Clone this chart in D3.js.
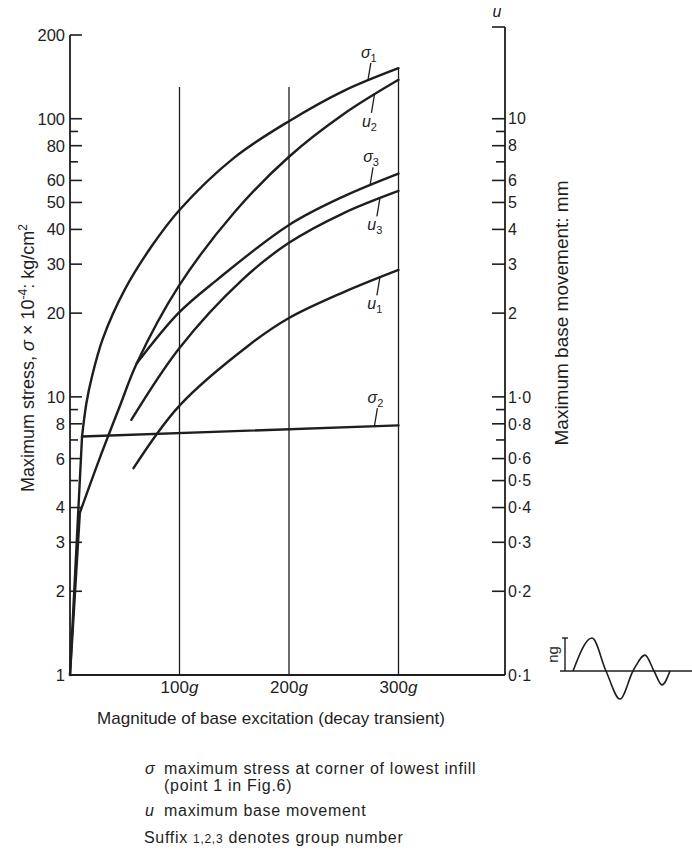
<!DOCTYPE html>
<html><head><meta charset="utf-8">
<script src="https://cdn.jsdelivr.net/npm/d3@7"></script>
<style>
body{margin:0;background:#fff}
svg{display:block}
text{font-family:"Liberation Sans",Arial,sans-serif;fill:#1e1e1e}
</style>
</head><body>
<svg id="c" width="692" height="850"></svg>
<script>
// ---------- data ----------
const xTicks = [100, 200, 300];
const xTickUnit = "g";
const leftTicks = [1,2,3,4,5,6,7,8,9,10,20,30,40,50,60,70,80,90,100,200];
const leftLabeled = [1,2,3,4,6,8,10,20,30,40,50,60,80,100,200];
const rightTicks = [0.1,0.2,0.3,0.4,0.5,0.6,0.7,0.8,0.9,1,2,3,4,5,6,7,8,9,10];
const rightLabeled = [0.1,0.2,0.3,0.4,0.5,0.6,0.8,1,2,3,4,5,6,8,10];
const rightLabelText = ["0·1","0·2","0·3","0·4","0·5","0·6","0·8","1·0","2","3","4","5","6","8","10"];

// stress (sigma x 10^-4 kg/cm2) vs excitation (g)
const sigmaStemX = [0, 11];
const sigmaStemY = [1, 7.2];
const sigma1X = [11, 15, 20, 30, 50, 75, 100, 150, 200, 250, 300];
const sigma1Y = [7.2, 9.5, 11.8, 16.2, 24.3, 35, 47, 72.5, 98, 126, 152];
const sigma2X = [11, 300];
const sigma2Y = [7.2, 7.9];
const sigma3X = [61, 99, 134, 200, 250, 300];
const sigma3Y = [13.2, 20, 26.3, 41.5, 52.6, 63.5];
// base movement (mm) vs excitation (g)
const u2StemX = [0, 9];
const u2StemY = [0.1, 0.383];
const u2X = [9, 27, 46, 61, 99, 150, 200, 250, 300];
const u2Y = [0.383, 0.6, 0.937, 1.32, 2.49, 4.6, 7.3, 10.4, 13.8];
const u3X = [56, 100, 157, 200, 250, 300];
const u3Y = [0.827, 1.5, 2.63, 3.58, 4.58, 5.5];
const u1X = [58, 100, 164, 200, 250, 300];
const u1Y = [0.554, 0.93, 1.54, 1.92, 2.38, 2.86];

// vertical grid lines: excitation and top (stress units)
const gridX = [100, 200, 300];
const gridTop = [130, 130, 152];

// inset decay transient (time fraction, amplitude in ng)
const waveT = [0, 0.19, 0.33, 0.47, 0.6, 0.72, 0.81, 0.89, 0.97];
const waveA = [0, 1, 0, -0.85, 0, 0.48, 0, -0.42, 0];

// ---------- drawing ----------
const svg = d3.select("#c");
const ink = "#1e1e1e";
const x = d3.scaleLinear().domain([0, 300]).range([70, 398.5]);
const y = d3.scaleLog().domain([1, 200]).range([675, 35]);
const yR = d3.scaleLog().domain([0.1, 20]).range([675, 35]);
const xAxisEnd = 505, rightTop = 27;

const g = svg.append("g");

// grid lines
gridX.forEach((v, i) => {
  g.append("line").attr("x1", x(v)).attr("x2", x(v))
    .attr("y1", y(1)).attr("y2", y(gridTop[i]))
    .attr("stroke", ink).attr("stroke-width", 1.3);
});

// left axis
g.append("line").attr("x1", x(0)).attr("x2", x(0)).attr("y1", y(200)).attr("y2", y(1))
  .attr("stroke", ink).attr("stroke-width", 1.8);
leftTicks.forEach(v => {
  const major = leftLabeled.includes(v);
  g.append("line").attr("x1", x(0)).attr("x2", x(0) + (major ? 12 : 8))
    .attr("y1", y(v)).attr("y2", y(v)).attr("stroke", ink).attr("stroke-width", 1.6);
});
leftLabeled.forEach(v => {
  g.append("text").attr("x", x(0) - 5).attr("y", y(v)).attr("dy", "0.36em")
    .attr("text-anchor", "end").attr("font-size", 16.5).text(v);
});

// bottom axis
g.append("line").attr("x1", x(0)).attr("x2", xAxisEnd).attr("y1", y(1)).attr("y2", y(1))
  .attr("stroke", ink).attr("stroke-width", 1.8);
xTicks.forEach(v => {
  const t = g.append("text").attr("x", x(v)).attr("y", y(1) + 18)
    .attr("text-anchor", "middle").attr("font-size", 17);
  t.append("tspan").text(v);
  t.append("tspan").attr("font-style", "italic").text(xTickUnit);
});

// right axis
g.append("line").attr("x1", xAxisEnd).attr("x2", xAxisEnd).attr("y1", rightTop).attr("y2", yR(0.1))
  .attr("stroke", ink).attr("stroke-width", 1.8);
g.append("line").attr("x1", xAxisEnd - 13).attr("x2", xAxisEnd).attr("y1", rightTop).attr("y2", rightTop)
  .attr("stroke", ink).attr("stroke-width", 1.6);
rightTicks.forEach(v => {
  const major = rightLabeled.includes(v);
  g.append("line").attr("x1", xAxisEnd - (major ? 13 : 9)).attr("x2", xAxisEnd)
    .attr("y1", yR(v)).attr("y2", yR(v)).attr("stroke", ink).attr("stroke-width", 1.6);
});
rightLabeled.forEach((v, i) => {
  g.append("text").attr("x", xAxisEnd + 3).attr("y", yR(v)).attr("dy", "0.36em")
    .attr("font-size", 16).text(rightLabelText[i]);
});
g.append("text").attr("x", xAxisEnd - 8).attr("y", 17).attr("text-anchor", "middle")
  .attr("font-size", 16).attr("font-style", "italic").text("u");

// axis titles
const lt = g.append("text").attr("transform", "translate(34,358) rotate(-90)")
  .attr("text-anchor", "middle").attr("font-size", 18);
lt.append("tspan").text("Maximum stress, ");
lt.append("tspan").attr("font-style", "italic").text("σ");
lt.append("tspan").text(" × 10");
lt.append("tspan").attr("font-size", 12).attr("dy", -7).text("-4");
lt.append("tspan").attr("dy", 7).text(": kg/cm");
lt.append("tspan").attr("font-size", 12).attr("dy", -7).text("2");

g.append("text").attr("transform", "translate(568,313) rotate(-90)")
  .attr("text-anchor", "middle").attr("font-size", 19).text("Maximum base movement: mm");

g.append("text").attr("x", 271).attr("y", 724).attr("text-anchor", "middle")
  .attr("font-size", 17).text("Magnitude of base excitation (decay transient)");

// curves
const lineL = d3.line().x(d => x(d[0])).y(d => y(d[1]));
const lineR = d3.line().x(d => x(d[0])).y(d => yR(d[1]));
const zip = (a, b) => a.map((v, i) => [v, b[i]]);
const curve = d3.curveCatmullRom.alpha(0.5);
const stroke = p => p.attr("fill", "none").attr("stroke", ink).attr("stroke-width", 2.4)
  .attr("stroke-linejoin", "round").attr("stroke-linecap", "round");

g.append("path").attr("d", lineL.curve(d3.curveLinear)(zip(sigmaStemX, sigmaStemY))).call(stroke);
g.append("path").attr("d", lineR.curve(d3.curveLinear)(zip(u2StemX, u2StemY))).call(stroke);
g.append("path").attr("d", lineL.curve(d3.curveLinear)(zip(sigma2X, sigma2Y))).call(stroke);
g.append("path").attr("d", lineL.curve(curve)(zip(sigma1X, sigma1Y))).call(stroke);
g.append("path").attr("d", lineL.curve(curve)(zip(sigma3X, sigma3Y))).call(stroke);
g.append("path").attr("d", lineR.curve(curve)(zip(u2X, u2Y))).call(stroke);
g.append("path").attr("d", lineR.curve(curve)(zip(u3X, u3Y))).call(stroke);
g.append("path").attr("d", lineR.curve(curve)(zip(u1X, u1Y))).call(stroke);

// curve labels
function valAt(xs, ys, xv) {
  for (let i = 1; i < xs.length; i++) {
    if (xv <= xs[i]) {
      const t = (xv - xs[i-1]) / (xs[i] - xs[i-1]);
      return Math.pow(10, Math.log10(ys[i-1]) + t * (Math.log10(ys[i]) - Math.log10(ys[i-1])));
    }
  }
  return ys[ys.length - 1];
}
const labels = [
  {sym: "σ", sub: "1", xs: sigma1X, ys: sigma1Y, sc: y, at: 272, up: true},
  {sym: "u", sub: "2", xs: u2X, ys: u2Y, sc: yR, at: 278, up: false},
  {sym: "σ", sub: "3", xs: sigma3X, ys: sigma3Y, sc: y, at: 274, up: true},
  {sym: "u", sub: "3", xs: u3X, ys: u3Y, sc: yR, at: 283, up: false},
  {sym: "u", sub: "1", xs: u1X, ys: u1Y, sc: yR, at: 283, up: false},
  {sym: "σ", sub: "2", xs: sigma2X, ys: sigma2Y, sc: y, at: 278, up: true}
];
labels.forEach(L => {
  const px = x(L.at), py = L.sc(valAt(L.xs, L.ys, L.at));
  const ex = L.up ? px + 3 : px - 3, ey = L.up ? py - 18 : py + 18;
  g.append("line").attr("x1", px).attr("y1", py).attr("x2", ex).attr("y2", ey)
    .attr("stroke", ink).attr("stroke-width", 1.3);
  const ty = L.up ? py - 23 : py + 32;
  const t = g.append("text").attr("x", ex - 2).attr("y", ty).attr("text-anchor", "middle")
    .attr("font-size", 16).attr("font-style", "italic");
  t.append("tspan").text(L.sym);
  t.append("tspan").attr("font-size", 11).attr("font-style", "normal").attr("dy", 4).text(L.sub);
});

// inset transient
const wx = d3.scaleLinear().domain([0, 1]).range([573, 673]);
const wy = d3.scaleLinear().domain([-1, 1]).range([704, 638]);
g.append("line").attr("x1", 560).attr("x2", 692).attr("y1", wy(0)).attr("y2", wy(0))
  .attr("stroke", ink).attr("stroke-width", 1.4);
g.append("path").attr("d", d3.line().x(d => wx(d[0])).y(d => wy(d[1])).curve(d3.curveMonotoneX)(zip(waveT, waveA)))
  .attr("fill", "none").attr("stroke", ink).attr("stroke-width", 1.6);
g.append("line").attr("x1", 565).attr("x2", 565).attr("y1", wy(1)).attr("y2", wy(0)).attr("stroke", ink).attr("stroke-width", 1.4);
g.append("line").attr("x1", 562).attr("x2", 568).attr("y1", wy(1)).attr("y2", wy(1)).attr("stroke", ink).attr("stroke-width", 1.4);
g.append("text").attr("transform", `translate(558,${wy(0.5)}) rotate(-90)`).attr("text-anchor", "middle")
  .attr("font-size", 15).text("ng");

// legend
const lg = g.append("g").attr("font-size", 16);
lg.append("text").attr("x", 145).attr("y", 774).attr("font-style", "italic").attr("font-size", 16).text("σ");
lg.append("text").attr("x", 164).attr("y", 774).attr("font-size", 16).attr("letter-spacing", 0.7).text("maximum stress at corner of lowest infill");
lg.append("text").attr("x", 164).attr("y", 791).attr("font-size", 16).attr("letter-spacing", 0.7).text("(point 1  in Fig.6)");
lg.append("text").attr("x", 145).attr("y", 816).attr("font-style", "italic").attr("font-size", 16).text("u");
lg.append("text").attr("x", 164).attr("y", 816).attr("font-size", 16).attr("letter-spacing", 0.7).text("maximum base movement");
const sf = lg.append("text").attr("x", 144).attr("y", 843).attr("font-size", 16).attr("letter-spacing", 0.7);
sf.append("tspan").text("Suffix ");
sf.append("tspan").attr("font-size", 12).text("1,2,3");
sf.append("tspan").text(" denotes group number");
</script>
</body></html>
